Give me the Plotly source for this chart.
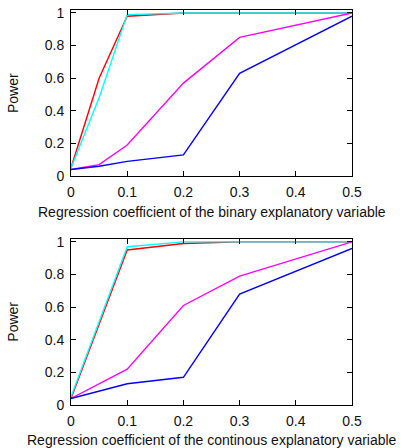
import plotly.graph_objects as go
from plotly.subplots import make_subplots

# Top panel: binary explanatory variable
x_bin = [0, 0.05, 0.1, 0.2, 0.3, 0.5]
bin_red = [0.05, 0.60, 0.98, 1.00, 1.00, 1.00]
bin_cyan = [0.05, 0.48, 0.99, 1.00, 1.00, 1.00]
bin_magenta = [0.04, 0.07, 0.19, 0.57, 0.85, 1.00]
bin_blue = [0.04, 0.06, 0.09, 0.13, 0.63, 0.98]

# Bottom panel: continuous explanatory variable
x_cont = [0, 0.1, 0.2, 0.3, 0.5]
cont_red = [0.04, 0.95, 0.99, 1.00, 1.00]
cont_cyan = [0.05, 0.97, 1.00, 1.00, 1.00]
cont_magenta = [0.04, 0.22, 0.61, 0.79, 1.00]
cont_blue = [0.04, 0.13, 0.17, 0.68, 0.96]

x_ticks = [0, 0.1, 0.2, 0.3, 0.4, 0.5]
x_tick_labels = ["0", "0.1", "0.2", "0.3", "0.4", "0.5"]
y_ticks = [0, 0.2, 0.4, 0.6, 0.8, 1.0]
y_tick_labels = ["0", "0.2", "0.4", "0.6", "0.8", "1"]

x_title_top = "Regression coefficient of the binary explanatory variable"
x_title_bottom = "Regression coefficient of the continous explanatory variable"
y_title = "Power"

colors = ["#ff0000", "#00ffff", "#ff00ff", "#0000ff"]

W, H = 402, 448
ml, mr = 71, 402 - 352
mt, mb = 9.5, 448 - 405.5
ph = H - mt - mb

def frac(px_top, px_bot):
    return [1 - (px_bot - mt) / ph, 1 - (px_top - mt) / ph]

def py(px):
    return (H - mb - px) / ph

fig = make_subplots(rows=2, cols=1)

top = [bin_red, bin_cyan, bin_magenta, bin_blue]
bot = [cont_red, cont_cyan, cont_magenta, cont_blue]
for ys, c in zip(top, colors):
    fig.add_trace(go.Scatter(x=x_bin, y=ys, mode="lines", line=dict(color=c, width=1.4),
                             showlegend=False, hoverinfo="skip"), row=1, col=1)
for ys, c in zip(bot, colors):
    fig.add_trace(go.Scatter(x=x_cont, y=ys, mode="lines", line=dict(color=c, width=1.4),
                             showlegend=False, hoverinfo="skip"), row=2, col=1)

font = dict(family="Liberation Sans, Arial", size=14, color="#111111")
axis_common = dict(showline=True, linecolor="black", linewidth=1, mirror="ticks",
                   ticks="inside", ticklen=5, tickcolor="black", tickwidth=1,
                   showgrid=False, zeroline=False, tickfont=font, automargin=False,
                   ticklabeloverflow="allow")

fig.update_xaxes(range=[0, 0.5], tickvals=x_ticks, ticktext=x_tick_labels,
                 ticklabelstandoff=3, **axis_common)
fig.update_yaxes(range=[0, 1.018], tickvals=y_ticks, ticktext=y_tick_labels,
                 ticklabelstandoff=3, **axis_common)

fig.update_layout(
    width=W, height=H,
    margin=dict(l=ml, r=mr, t=mt, b=mb),
    plot_bgcolor="white", paper_bgcolor="white",
    xaxis=dict(domain=[0, 1]),
    yaxis=dict(domain=frac(9.5, 176)),
    xaxis2=dict(domain=[0, 1]),
    yaxis2=dict(domain=frac(239, 405.5)),
)

tfont = dict(family="Liberation Sans, Arial", size=14, color="#111111")
fig.add_annotation(text=x_title_top, xref="paper", yref="paper", x=0.5, y=py(211.7),
                   showarrow=False, font=tfont, xanchor="center", yanchor="middle")
fig.add_annotation(text=x_title_bottom, xref="paper", yref="paper", x=0.5, y=py(440.5),
                   showarrow=False, font=tfont, xanchor="center", yanchor="middle")
for yc in [92.75, 322]:
    fig.add_annotation(text=y_title, xref="paper", yref="paper",
                       x=(13 - ml) / (W - ml - mr),
                       y=py(yc), showarrow=False, textangle=-90,
                       font=dict(family="Liberation Sans, Arial", size=14, color="#111111"),
                       xanchor="center", yanchor="middle")

fig.write_html("out.html", config={"displayModeBar": False},
               post_script="document.body.style.margin='0';document.body.style.overflow='hidden';")
